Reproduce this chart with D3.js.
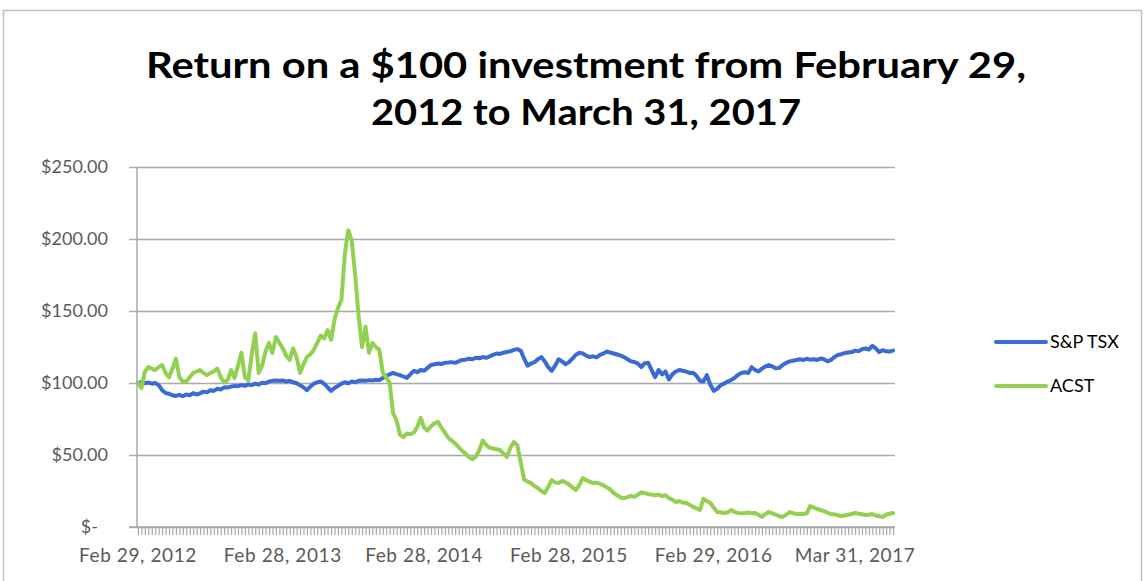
<!DOCTYPE html>
<html>
<head>
<meta charset="utf-8">
<script src="https://cdn.jsdelivr.net/npm/d3@7"></script>
<style>
  html, body { margin: 0; padding: 0; background: #fff; }
  svg { display: block; }
</style>
</head>
<body>
<svg id="chart" width="1145" height="581"></svg>
<script>
// ---- Data ----
const titleLines = ["Return on a $100 investment from February 29,", "2012 to March 31, 2017"];
const seriesNames = ["S&P TSX", "ACST"];
const seriesColors = ["#3a6bd4", "#92d050"];

const tsx = [
  100,100.5,99.8,100.3,99.5,100,98.5,95,93,92.5,
  91.5,91,91.8,90.8,92,91.5,93,92,92.8,94,
  93.5,95,94.5,96,95.5,97,96.8,97.5,98,97.8,
  98.5,98,99,98.6,99.5,99,100.2,99.8,101,101.5,
  101.8,101.5,101.8,101,101.5,100.5,99.8,98.5,97,95,
  97.5,99.5,100.5,101,99.5,97,94.5,96.5,98,99.5,
  100.5,99.8,101,100.5,101.5,101.8,101.5,102,101.8,102.2,
  102,103.5,105,106,107,106.2,105.5,104.5,103.5,106,
  108.5,107.5,109,108.5,110.5,112.5,113,113.5,113.2,114,
  114.2,114.5,114,115,116,116.2,116.8,116.5,117.5,117.2,
  118,117.5,118.5,119.5,120.5,120.2,121,121.5,122,123,
  123.5,122.5,117,112,113.5,114.5,116.5,118,115,111,
  108.5,112,116.5,115,113,114.5,117,119.5,121,120.5,
  119,118,118.5,117.8,119.5,120.5,121.8,121.2,120.5,119.8,
  119,118,116.5,115,114.6,113.5,111,113.8,114,109,
  104,109,106,108,102.5,106,108,109,108.5,108,
  107,107.2,105,101.5,101,105.5,99,94.5,96,98.5,
  99.5,101,102,103.5,105.5,107,107.5,107,111,109,
  108,110,111.5,112.5,111.5,110.2,110.5,112.5,114,115,
  115.5,116,116.5,116,116.8,116.2,116.5,116,117,116.5,
  115,116,118,119.5,120,120.8,121.2,121.5,122.5,122,
  123.5,124,123.2,125.7,124,121.5,122.8,122,121.8,122.5
];

const acst = [
  100,96.5,108,111,110,109,111,112.5,107,104,
  110,117,104,101,101,104,107,108,109,107,
  105.5,107,108,110,104,100.5,102,109,103.5,112,
  121,104,102,120,134.5,107,112,122,127.8,121,
  132,128,124,119,116,124,118,107,113,118,
  120,123,127.8,133,131,136.8,130,144,152,157.6,
  190,206,199,175,146,125,139,121,127.8,125,
  123,107,104,100,79,74,64,62.5,65,64.5,
  65.5,69.4,75.7,69,67,70,72,73,69,65.5,
  62,60,58,55.5,53,51,48.5,47,49,53.5,
  60,57,55,54.5,54,53.5,51,48.6,55,59,
  57,45,33,31.5,30.5,28.5,27,25,23.6,28,
  32.6,31,30.5,32,31,29.5,27.5,25.7,29,34,
  32.5,31.5,30.5,30.8,30,29,27.5,26,23.6,22,
  20.5,20,20.8,21.5,21,22.5,24,23.5,22.8,22.5,
  22,22.5,21.5,22,20,19,17.4,18,17,16.7,
  15.5,14,13,11.8,19.5,18,16.7,13.5,10.4,10.2,
  9.7,10,11.8,10.5,9.8,9.5,9.7,10,9.5,9.7,
  8.5,7,9,10.4,9.5,8.5,7.5,7,8.5,10.4,
  9.5,9,9.2,9,9.5,14.6,13.5,12.5,11.8,11,
  10,9,8.8,8.2,7.6,8,8.5,9,9.7,9.2,
  8.8,8.3,8.5,9,8,7.5,7,8.5,9.2,9.7
];

const xTickLabels = ["Feb 29, 2012", "Feb 28, 2013", "Feb 28, 2014", "Feb 28, 2015", "Feb 29, 2016", "Mar 31, 2017"];
const xTickLabelIndex = [0, 42, 83, 125, 167, 208];
const yTicks = [0, 50, 100, 150, 200, 250];
const yTickLabels = ["$-", "$50.00", "$100.00", "$150.00", "$200.00", "$250.00"];

// ---- Layout ----
const svg = d3.select("#chart");
const plot = { left: 137, right: 895, top: 167, bottom: 527 };
const N = tsx.length;
const x = d3.scaleLinear().domain([0, N - 1]).range([plot.left + 1, plot.right - 2]);
const y = d3.scaleLinear().domain([0, 250]).range([plot.bottom, plot.top]);

const gridColor = "#a9a9a9";
const textColor = "#595959";
const font = "Lato, 'Noto Sans', sans-serif";

// chart frame
svg.append("rect").attr("x", 3.5).attr("y", 10.5).attr("width", 1138).attr("height", 600)
  .attr("fill", "none").attr("stroke", "#bfbfbf").attr("stroke-width", 1.5);

// title
const title = svg.append("g");
titleLines.forEach((t, i) => {
  title.append("text")
    .attr("x", 586).attr("y", i === 0 ? 78 : 125)
    .attr("text-anchor", "middle")
    .attr("font-family", font).attr("font-weight", "bold").attr("font-size", 37)
    .attr("fill", "#000")
    .attr("textLength", i === 0 ? 880 : 430).attr("lengthAdjust", "spacingAndGlyphs")
    .text(t);
});

// gridlines + y axis
const yAxis = d3.axisLeft(y).tickValues(yTicks).tickSize(plot.right - plot.left + 8).tickFormat("");
svg.append("g").attr("transform", `translate(${plot.right},0)`).call(yAxis)
  .call(g => g.select(".domain").remove())
  .call(g => g.selectAll("line").attr("stroke", gridColor).attr("stroke-width", 1.5));

svg.append("line").attr("x1", plot.left).attr("x2", plot.left).attr("y1", plot.top).attr("y2", plot.bottom)
  .attr("stroke", gridColor).attr("stroke-width", 1.5);

// y labels
svg.append("g").selectAll("text").data(yTicks).join("text")
  .attr("x", d => d === 0 ? 98 : 108)
  .attr("y", d => y(d))
  .attr("dy", "0.35em")
  .attr("text-anchor", "end")
  .attr("font-family", font).attr("font-size", 18).attr("fill", textColor)
  .text((d, i) => yTickLabels[i]);

// x axis: one tick per period
const xAxis = d3.axisBottom(x).tickValues(d3.range(N)).tickSize(8).tickFormat("");
svg.append("g").attr("transform", `translate(0,${plot.bottom})`).call(xAxis)
  .call(g => g.select(".domain").remove())
  .call(g => g.selectAll("line").attr("stroke", gridColor).attr("stroke-width", 1.2));
svg.append("line").attr("x1", plot.left - 8).attr("x2", plot.right).attr("y1", plot.bottom).attr("y2", plot.bottom)
  .attr("stroke", gridColor).attr("stroke-width", 1.5);

svg.append("g").selectAll("text").data(xTickLabelIndex).join("text")
  .attr("x", d => x(d))
  .attr("y", 562)
  .attr("text-anchor", "middle")
  .attr("font-family", font).attr("font-size", 19).attr("fill", textColor)
  .attr("letter-spacing", "0.6px")
  .text((d, i) => xTickLabels[i]);

// lines
const line = d3.line().x((d, i) => x(i)).y(d => y(d)).curve(d3.curveLinear);
[tsx, acst].forEach((s, k) => {
  svg.append("path").datum(s)
    .attr("d", line)
    .attr("fill", "none")
    .attr("stroke", seriesColors[k])
    .attr("stroke-width", 4)
    .attr("stroke-linejoin", "round")
    .attr("stroke-linecap", "round");
});

// legend
const legendY = [342, 386];
seriesNames.forEach((name, k) => {
  svg.append("line").attr("x1", 996).attr("x2", 1046).attr("y1", legendY[k]).attr("y2", legendY[k])
    .attr("stroke", seriesColors[k]).attr("stroke-width", 4).attr("stroke-linecap", "round");
  svg.append("text").attr("x", 1050).attr("y", legendY[k]).attr("dy", "0.35em")
    .attr("font-family", font).attr("font-size", 18).attr("fill", "#000")
    .text(name);
});
</script>
</body>
</html>
